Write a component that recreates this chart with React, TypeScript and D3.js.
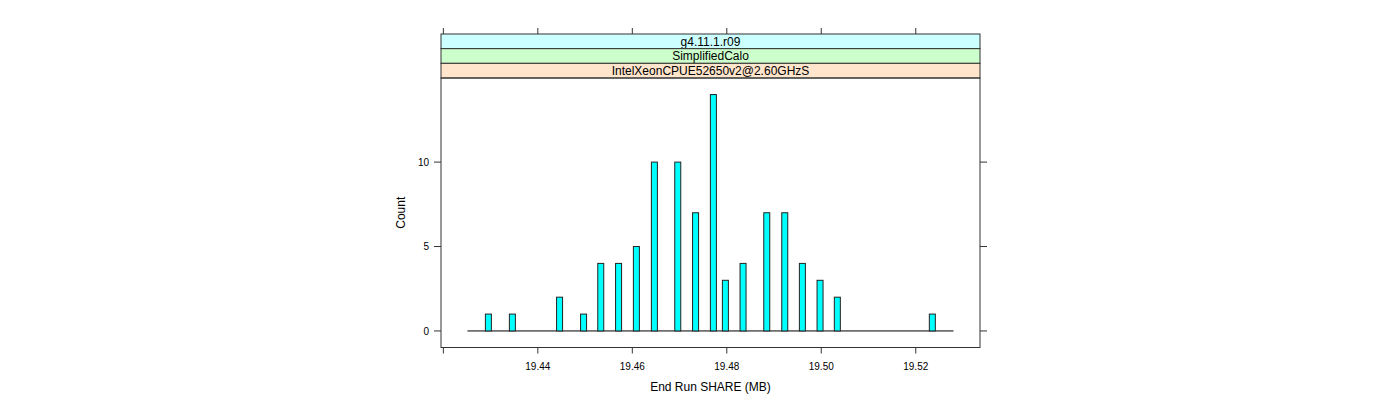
import React from "react";
import * as d3 from "d3";

// ---- data ----
const binCenters = [
  19.42953, 19.43461, 19.4446, 19.44968, 19.45332, 19.45709, 19.46086, 19.46467,
  19.46962, 19.47339, 19.47716, 19.4797, 19.48344, 19.48846, 19.49227, 19.496,
  19.49974, 19.5034, 19.52351,
];
const counts = [1, 1, 2, 1, 4, 4, 5, 10, 10, 7, 14, 3, 4, 7, 7, 4, 3, 2, 1];
const binWidth = 0.00127;
const histRange = [19.4251, 19.528];
const xTicks = [19.42, 19.44, 19.46, 19.48, 19.5, 19.52];
const xTickLabels = ["", "19.44", "19.46", "19.48", "19.50", "19.52"];
const yTicks = [0, 5, 10];
const yTickLabels = ["0", "5", "10"];
const stripLabels = ["g4.11.1.r09", "SimplifiedCalo", "IntelXeonCPUE52650v2@2.60GHzS"];
const stripColors = ["#ccffff", "#ccffcc", "#ffe5cc"];
const xTitle = "End Run SHARE (MB)";
const yTitle = "Count";

export default function App() {
  const left = 441, right = 980, panelTop = 78, panelBottom = 347.5;
  const stripTop = 34;
  const stripH = (panelTop - stripTop) / stripLabels.length;
  const x = d3.scaleLinear().domain([19.4195, 19.5336]).range([left, right]);
  const y = d3.scaleLinear().domain([-0.98, 14.98]).range([panelBottom, panelTop]);
  const font = "'Liberation Sans', Arial, Helvetica, sans-serif";
  const axisCol = "#333";

  return (
    <svg
      width={1400}
      height={400}
      style={{ position: "absolute", left: 0, top: 0, background: "#fff" }}
      fontFamily={font}
    >
      {/* strips (top level drawn first) */}
      {stripLabels.map((lab, i) => {
        const top = stripTop + i * stripH;
        return (
          <g key={lab}>
            <rect x={left} y={top} width={right - left} height={stripH} fill={stripColors[i]} stroke={axisCol} strokeWidth={1} />
            <text x={(left + right) / 2} y={top + 11.6} fontSize={12} textAnchor="middle" fill="#000">
              {lab}
            </text>
          </g>
        );
      })}

      {/* histogram baseline (empty bins) */}
      <line x1={x(histRange[0])} x2={x(histRange[1])} y1={y(0)} y2={y(0)} stroke="#000" strokeWidth={1} />

      {/* bars */}
      {binCenters.map((c, i) => {
        const x0 = x(c - binWidth / 2);
        const x1 = x(c + binWidth / 2);
        return (
          <rect
            key={i}
            x={x0}
            y={y(counts[i])}
            width={x1 - x0}
            height={y(0) - y(counts[i])}
            fill="#00ffff"
            stroke="#222"
            strokeWidth={1}
          />
        );
      })}

      {/* panel border */}
      <rect x={left} y={panelTop} width={right - left} height={panelBottom - panelTop} fill="none" stroke={axisCol} strokeWidth={1} />

      {/* x ticks bottom & top */}
      {xTicks.map((t, i) => (
        <g key={"xt" + i}>
          <line x1={x(t)} x2={x(t)} y1={panelBottom} y2={panelBottom + 6} stroke={axisCol} />
          <line x1={x(t)} x2={x(t)} y1={stripTop} y2={stripTop - 6} stroke={axisCol} />
          {xTickLabels[i] && (
            <text x={x(t)} y={370} fontSize={10} textAnchor="middle" fill="#000">
              {xTickLabels[i]}
            </text>
          )}
        </g>
      ))}

      {/* y ticks left & right */}
      {yTicks.map((t, i) => (
        <g key={"yt" + i}>
          <line x1={left - 7} x2={left} y1={y(t)} y2={y(t)} stroke={axisCol} />
          <line x1={right} x2={right + 7} y1={y(t)} y2={y(t)} stroke={axisCol} />
          <text x={429} y={y(t) + 3.6} fontSize={10} textAnchor="end" fill="#000">
            {yTickLabels[i]}
          </text>
        </g>
      ))}

      {/* axis titles */}
      <text x={(left + right) / 2} y={391} fontSize={12} textAnchor="middle" fill="#000">
        {xTitle}
      </text>
      <text
        transform={`translate(405, ${(panelTop + panelBottom) / 2}) rotate(-90)`}
        fontSize={12}
        textAnchor="middle"
        fill="#000"
      >
        {yTitle}
      </text>
    </svg>
  );
}
